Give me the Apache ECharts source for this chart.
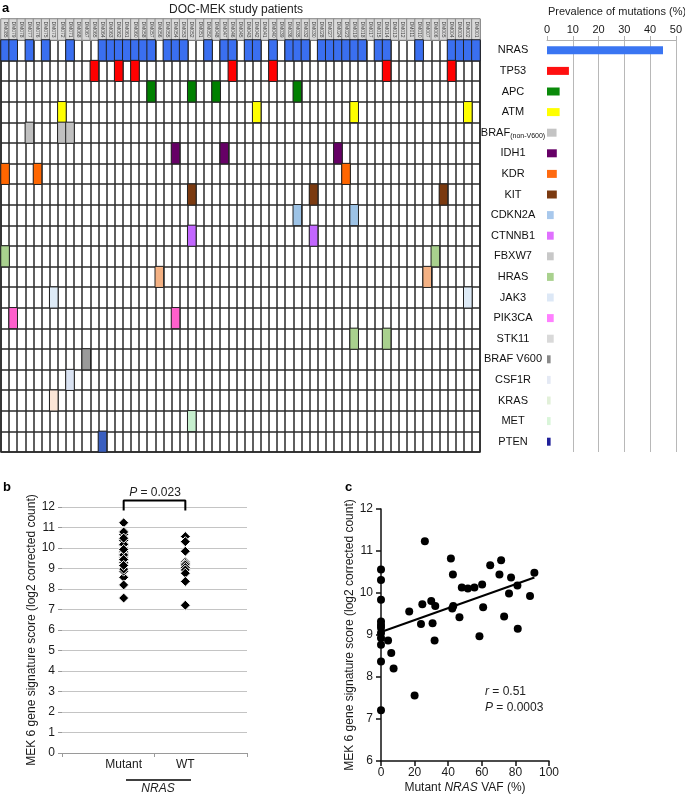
<!DOCTYPE html>
<html><head><meta charset="utf-8">
<script src="https://cdn.jsdelivr.net/npm/echarts@6/dist/echarts.min.js"></script>
<style>html,body{margin:0;padding:0;background:#fff}#c{width:685px;height:795px}</style>
</head><body><div id="c"></div>
<script>
// ---------- DATA ----------
const patients = ['DM085','DM079','DM078','DM077','DM076','DM075','DM073','DM072','DM071','DM068','DM067','DM065','DM064','DM063','DM062','DM061','DM060','DM058','DM057','DM056','DM055','DM054','DM053','DM052','DM051','DM050','DM048','DM047','DM046','DM045','DM043','DM042','DM041','DM040','DM039','DM036','DM035','DM032','DM030','DM028','DM027','DM024','DM023','DM019','DM018','DM017','DM015','DM014','DM013','DM012','DM011','DM010','DM007','DM006','DM005','DM004','DM003','DM002','DM001'];
const genes = ['NRAS','TP53','APC','ATM','BRAF(non-V600)','IDH1','KDR','KIT','CDKN2A','CTNNB1','FBXW7','HRAS','JAK3','PIK3CA','STK11','BRAF V600','CSF1R','KRAS','MET','PTEN'];
// indices (into patients) of patients carrying a mutation, one list per gene
const mutatedPatientIdx = [
  [0,1,3,5,8,12,13,14,15,16,17,18,20,21,22,25,27,28,30,31,33,35,36,37,39,40,41,42,43,44,46,47,51,55,56,57,58],
  [11,14,16,28,33,47,55],
  [18,23,26,36],
  [7,31,43,57],
  [3,7,8],
  [21,27,41],
  [0,4,42],
  [23,38,54],
  [36,43],
  [23,38],
  [0,53],
  [19,52],
  [6,57],
  [1,21],
  [43,47],
  [10],
  [8],
  [6],
  [23],
  [12]
];
const prevalence = [45,8.5,4.9,4.9,3.7,3.8,3.8,3.8,2.6,2.6,2.6,2.6,2.6,2.6,2.6,1.4,1.4,1.4,1.4,1.4];
const prevalenceTicks = [0,10,20,30,40,50];

// panel c: NRAS VAF (%) and MEK 6 gene signature score
const vaf = [0,0,0,0,0,0,0,0,0,0,0,4.2,6.1,7.5,16.8,20.0,23.8,24.6,26.1,29.9,30.7,32.3,31.9,41.6,42.8,42.4,43.0,46.7,48.1,51.7,55.6,58.6,60.2,60.8,65.0,70.5,71.5,73.3,76.2,77.4,81.2,81.4,88.7,91.3];
const score = [10.56,10.31,9.84,9.32,9.24,9.17,9.05,8.93,8.77,8.37,7.21,8.87,8.57,8.20,9.56,7.56,9.26,9.73,11.23,9.81,9.28,9.69,8.87,10.82,10.44,9.63,9.69,9.42,10.13,10.11,10.13,8.97,10.20,9.66,10.66,10.44,10.78,9.44,9.99,10.37,10.18,9.15,9.93,10.48];
const trendLine = [[0,9.07],[91.3,10.37]];
const groupLabels = ['Mutant','WT'];

// ---------- STYLE ----------
const cellColors = ['#3a6ff0','#ff0000','#008000','#ffff00','#c0c0c0','#660066','#ff6600','#7b3a10','#9dc3e6','#c266ff','#a9d18e','#f4b183','#deebf7','#ff5fcc','#a9d18e','#9a9a9a','#dae3f3','#fbe5d6','#c6efce','#3a5fc0'];
const barColors = ['#3a75f2','#ff1010','#0a8a0a','#ffff00','#c4c4c4','#660066','#ff6a10','#7b3a10','#a8c8ec','#e070ff','#c8c8c8','#a9d18e','#dde8f6','#ff80ff','#d9d9d9','#8a8a8a','#e4e9f4','#e2f0d9','#d9f5d9','#1f1f99'];
const FONT = '"Liberation Sans", Arial, Helvetica, sans-serif';

const heatData = [];
mutatedPatientIdx.forEach((cols, g) => cols.forEach(c => heatData.push({value:[c, g, 1], itemStyle:{color: cellColors[g]}})));
const headerData = patients.map((p, i) => [i, 0, 1]);
const mutantPts = [], wtPts = [];
vaf.forEach((v, i) => { if (v > 0) mutantPts.push([1, score[i]]); else wtPts.push([2, score[i]]); });
const scatterC = vaf.map((v, i) => [v, score[i]]);

const chart = echarts.init(document.getElementById('c'));
chart.setOption({
  animation: false,
  backgroundColor: '#fff',
  textStyle: {fontFamily: FONT},
  grid: [
    {left: 1, top: 19, width: 479, height: 21, show: true, borderColor: '#8a8a8a', borderWidth: 1, backgroundColor: '#d9d9d9'},
    {left: 1, top: 40, width: 479, height: 412, show: true, borderColor: '#2a2a2a', borderWidth: 1.5, backgroundColor: '#fff'},
    {left: 547, top: 40, width: 129, height: 412},
    {left: 62, top: 507, width: 185, height: 246},
    {left: 381, top: 509, width: 168, height: 254}
  ],
  xAxis: [
    {gridIndex: 0, type: 'category', data: patients, axisLine: {show: false}, axisTick: {show: false}, axisLabel: {show: false},
      splitLine: {show: true, interval: 0, lineStyle: {color: '#8a8a8a', width: 1}}},
    {gridIndex: 1, type: 'category', data: patients, axisLine: {show: false}, axisTick: {show: false}, axisLabel: {show: false},
      splitLine: {show: true, interval: 0, lineStyle: {color: '#2a2a2a', width: 1.5}}},
    {gridIndex: 2, type: 'value', position: 'top', min: 0, max: 50, interval: 10,
      axisLine: {show: true, lineStyle: {color: '#b0b0b0'}}, axisTick: {show: true, length: 4, lineStyle: {color: '#b0b0b0'}},
      axisLabel: {fontSize: 11, color: '#1a1a1a', margin: 5, fontFamily: FONT},
      splitLine: {show: true, showMinLine: false, lineStyle: {color: '#b8b8b8'}}},
    {gridIndex: 3, type: 'value', min: 0, max: 3, interval: 1,
      axisLine: {show: true, lineStyle: {color: '#9a9a9a'}},
      axisTick: {show: true, length: 4, customValues: [0, 1.5, 3], lineStyle: {color: '#9a9a9a'}},
      axisLabel: {customValues: [1, 2], formatter: v => groupLabels[Math.round(v) - 1] || '', fontSize: 12, color: '#1a1a1a', margin: 6, fontFamily: FONT},
      splitLine: {show: false}},
    {gridIndex: 4, type: 'value', min: 0, max: 100, interval: 20,
      axisLine: {show: true, onZero: false, lineStyle: {color: '#111', width: 1.5}}, axisTick: {show: true, length: 5, lineStyle: {color: '#111', width: 1.5}},
      axisLabel: {fontSize: 12, color: '#1a1a1a', margin: 6, fontFamily: FONT}, splitLine: {show: false},
      name: '{a|Mutant }{i|NRAS}{a| VAF (%)}', nameLocation: 'middle', nameGap: 21,
      nameTextStyle: {rich: {a: {fontSize: 12, color: '#1a1a1a', fontFamily: FONT}, i: {fontSize: 12, color: '#1a1a1a', fontStyle: 'italic', fontFamily: FONT}}}}
  ],
  yAxis: [
    {gridIndex: 0, type: 'category', data: ['ID'], axisLine: {show: false}, axisTick: {show: false}, axisLabel: {show: false}, splitLine: {show: false}},
    {gridIndex: 1, type: 'category', data: genes, inverse: true, axisLine: {show: false}, axisTick: {show: false}, axisLabel: {show: false},
      splitLine: {show: true, interval: 0, lineStyle: {color: '#2a2a2a', width: 1.5}}},
    {gridIndex: 2, type: 'category', data: genes, inverse: true, axisLine: {show: false}, axisTick: {show: false},
      axisLabel: {fontSize: 11, color: '#111', align: 'center', margin: 34, fontFamily: FONT,
        formatter: v => v === 'BRAF(non-V600)' ? '{n|BRAF}{s|(non-V600)}' : v,
        rich: {n: {fontSize: 11, color: '#111', fontFamily: FONT}, s: {fontSize: 7, color: '#111', fontFamily: FONT, padding: [6, 0, 0, 0]}}}},
    {gridIndex: 3, type: 'value', min: 0, max: 12, interval: 1,
      axisLine: {show: false}, axisTick: {show: true, length: 4, lineStyle: {color: '#9a9a9a'}},
      axisLabel: {fontSize: 12, color: '#1a1a1a', margin: 7, fontFamily: FONT},
      splitLine: {show: true, lineStyle: {color: '#c4c4c4'}},
      name: 'MEK 6 gene signature score (log2 corrected count)', nameLocation: 'middle', nameGap: 21, nameRotate: 90,
      nameTextStyle: {fontSize: 12, color: '#1a1a1a', fontFamily: FONT}},
    {gridIndex: 4, type: 'value', min: 6, max: 12, interval: 1,
      axisLine: {show: true, onZero: false, lineStyle: {color: '#111', width: 1.5}}, axisTick: {show: true, length: 5, lineStyle: {color: '#111', width: 1.5}},
      axisLabel: {fontSize: 12, color: '#1a1a1a', margin: 8, fontFamily: FONT}, splitLine: {show: false},
      name: 'MEK 6 gene signature score (log2 corrected count)', nameLocation: 'middle', nameGap: 25, nameRotate: 90,
      nameTextStyle: {fontSize: 12, color: '#1a1a1a', fontFamily: FONT}}
  ],
  series: [
    {type: 'heatmap', xAxisIndex: 0, yAxisIndex: 0, data: headerData,
      itemStyle: {color: '#d9d9d9', borderColor: '#8a8a8a', borderWidth: 1},
      label: {show: true, rotate: -90, fontSize: 5, color: '#444', fontFamily: FONT, formatter: p => patients[p.value[0]]},
      emphasis: {disabled: true}},
    {type: 'heatmap', xAxisIndex: 1, yAxisIndex: 1, data: heatData,
      itemStyle: {borderColor: '#222', borderWidth: 1}, emphasis: {disabled: true}},
    {type: 'bar', xAxisIndex: 2, yAxisIndex: 2, barWidth: 8,
      data: prevalence.map((v, i) => ({value: v, itemStyle: {color: barColors[i]}}))},
    {type: 'scatter', xAxisIndex: 3, yAxisIndex: 3, data: mutantPts, symbol: 'diamond', symbolSize: 10,
      itemStyle: {color: '#000', opacity: 1, borderColor: '#fff', borderWidth: 1}},
    {type: 'scatter', xAxisIndex: 3, yAxisIndex: 3, data: wtPts, symbol: 'diamond', symbolSize: 10,
      itemStyle: {color: '#000', opacity: 1, borderColor: '#fff', borderWidth: 1}},
    {type: 'line', xAxisIndex: 3, yAxisIndex: 3, data: [[1, 11.83], [1, 12.32], [2, 12.32], [2, 11.83]],
      symbol: 'none', clip: false, lineStyle: {color: '#000', width: 2}},
    {type: 'scatter', xAxisIndex: 4, yAxisIndex: 4, data: scatterC, symbolSize: 8, itemStyle: {color: '#000', opacity: 1}},
    {type: 'line', xAxisIndex: 4, yAxisIndex: 4, data: trendLine, symbol: 'none', lineStyle: {color: '#000', width: 2}}
  ],
  graphic: [
    {type: 'text', x: 2, y: 8, style: {text: 'a', font: 'bold 13px ' + FONT, fill: '#000', verticalAlign: 'middle'}},
    {type: 'text', x: 236, y: 10, style: {text: 'DOC-MEK study patients', font: '12px ' + FONT, fill: '#222', align: 'center', verticalAlign: 'middle'}},
    {type: 'text', x: 617, y: 12, style: {text: 'Prevalence of mutations (%)', font: '11px ' + FONT, fill: '#222', align: 'center', verticalAlign: 'middle'}},
    {type: 'text', x: 3, y: 487, style: {text: 'b', font: 'bold 13px ' + FONT, fill: '#000', verticalAlign: 'middle'}},
    {type: 'text', x: 155, y: 493, style: {text: '{i|P} = 0.023', font: '12px ' + FONT, fill: '#222', align: 'center', verticalAlign: 'middle',
      rich: {i: {fontStyle: 'italic', fontSize: 12, fontFamily: FONT, fill: '#222'}}}},
    {type: 'line', shape: {x1: 126, y1: 780, x2: 191, y2: 780}, style: {stroke: '#000', lineWidth: 1.5}},
    {type: 'text', x: 158, y: 789, style: {text: 'NRAS', font: 'italic 12px ' + FONT, fill: '#222', align: 'center', verticalAlign: 'middle'}},
    {type: 'text', x: 345, y: 487, style: {text: 'c', font: 'bold 13px ' + FONT, fill: '#000', verticalAlign: 'middle'}},
    {type: 'text', x: 485, y: 692, style: {text: '{i|r} = 0.51', font: '12px ' + FONT, fill: '#222', verticalAlign: 'middle',
      rich: {i: {fontStyle: 'italic', fontSize: 12, fontFamily: FONT, fill: '#222'}}}},
    {type: 'text', x: 485, y: 708, style: {text: '{i|P} = 0.0003', font: '12px ' + FONT, fill: '#222', verticalAlign: 'middle',
      rich: {i: {fontStyle: 'italic', fontSize: 12, fontFamily: FONT, fill: '#222'}}}}
  ]
});
</script></body></html>
